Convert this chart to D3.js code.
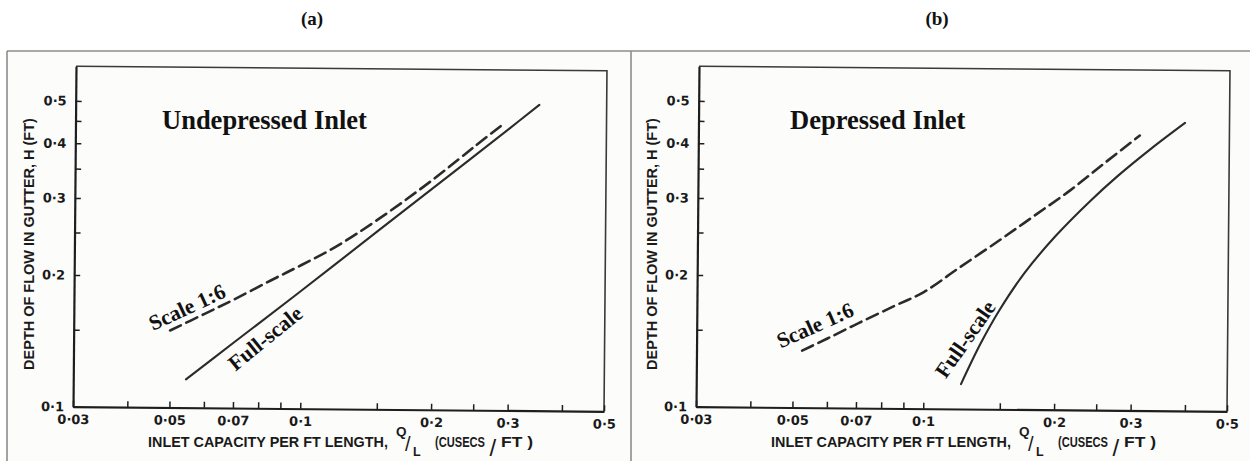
<!DOCTYPE html>
<html>
<head>
<meta charset="utf-8">
<script src="https://cdn.jsdelivr.net/npm/d3@7"></script>
<style>
  html, body { margin: 0; padding: 0; background: #ffffff; }
  svg { display: block; }
</style>
</head>
<body>
<svg id="chart" width="1250" height="461"></svg>
<script>
// Inlet capacity per ft length, Q/L (cusecs/ft), against depth of flow in gutter, H (ft)

// (a) Undepressed inlet
const undepressedFullQ  = [0.0545, 0.07, 0.1, 0.15, 0.2, 0.3, 0.35];
const undepressedFullH  = [0.116, 0.141, 0.186, 0.256, 0.321, 0.442, 0.5];
const undepressedModelQ = [0.05, 0.06, 0.07, 0.085, 0.1, 0.12, 0.15, 0.2, 0.25, 0.29];
const undepressedModelH = [0.150, 0.164, 0.177, 0.196, 0.213, 0.235, 0.272, 0.336, 0.402, 0.452];

// (b) Depressed inlet
const depressedFullQ  = [0.122, 0.135, 0.149, 0.17, 0.2, 0.24, 0.277, 0.33, 0.395];
const depressedFullH  = [0.114, 0.141, 0.1684, 0.2053, 0.2495, 0.3006, 0.343, 0.3966, 0.4553];
const depressedModelQ = [0.0525, 0.06, 0.0709, 0.085, 0.1, 0.12, 0.15, 0.18, 0.216, 0.26, 0.311];
const depressedModelH = [0.135, 0.144, 0.1566, 0.171, 0.185, 0.210, 0.245, 0.279, 0.318, 0.369, 0.425];

// Axis ticks and labels
const xTicks      = [0.03, 0.04, 0.05, 0.06, 0.07, 0.08, 0.09, 0.1, 0.15, 0.2, 0.25, 0.3, 0.4, 0.5];
const xTickLabels = [0.03, 0.05, 0.07, 0.1, 0.2, 0.3, 0.5];
const yTicks      = [0.1, 0.15, 0.2, 0.25, 0.3, 0.35, 0.4, 0.45, 0.5];
const yTickLabels = [0.1, 0.2, 0.3, 0.4, 0.5];
const xDomain = [0.03, 0.5];
const yDomain = [0.1, 0.6];

const panelLetters = ["(a)", "(b)"];
const panelTitles  = ["Undepressed Inlet", "Depressed Inlet"];
const seriesNames  = ["Full-scale", "Scale 1:6"];

const zip = (qs, hs) => qs.map((q, i) => ({ q, h: hs[i] }));
const panels = [
  { letter: panelLetters[0], title: panelTitles[0], dx: 0,
    full: zip(undepressedFullQ, undepressedFullH),
    model: zip(undepressedModelQ, undepressedModelH),
    titlePos: [162, 129], letterX: 312,
    modelLabel: { x: 187, y: 307, a: -25 },
    fullLabel:  { x: 265, y: 338, a: -39 } },
  { letter: panelLetters[1], title: panelTitles[1], dx: 623,
    full: zip(depressedFullQ, depressedFullH),
    model: zip(depressedModelQ, depressedModelH),
    titlePos: [790, 129], letterX: 937,
    modelLabel: { x: 815, y: 325, a: -24 },
    fullLabel:  { x: 965, y: 339, a: -55 } }
];

const fmt = v => String(v).replace(".", "·");
const svg = d3.select("#chart");
const ink = "#2b2b2b";
const sans = "Liberation Sans, Arial, sans-serif";
const tickFont = "DejaVu Sans, Verdana, sans-serif";
const serif = "Liberation Serif, Times New Roman, serif";

// squeeze a text horizontally so it spans the given width
function fitText(sel, prefix, width) {
  const natural = sel.node().getComputedTextLength();
  const k = natural > 0 ? width / natural : 1;
  sel.attr("transform", `${prefix} scale(${k},1)`);
  return sel;
}

// Page frame
svg.append("rect").attr("x", 7).attr("y", 51).attr("width", 1243).attr("height", 410)
  .attr("fill", "#fcfcfa");
const frame = svg.append("g").attr("stroke", "#8c8c8c").attr("stroke-width", 1.6).attr("fill", "none");
frame.append("line").attr("x1", 7).attr("x2", 1250).attr("y1", 51).attr("y2", 51);
frame.append("line").attr("x1", 7).attr("x2", 7).attr("y1", 51).attr("y2", 461);
frame.append("line").attr("x1", 631).attr("x2", 631).attr("y1", 51).attr("y2", 461);

panels.forEach(p => {
  const x0 = 74.5 + p.dx, x1 = 605.5 + p.dx;
  const yB = 409, yT = 68.5;
  const x = d3.scaleLog().domain(xDomain).range([x0, x1]);
  const y = d3.scaleLog().domain(yDomain).range([yB, yT]);

  // panel letter
  svg.append("text").attr("x", p.letterX).attr("y", 25)
    .attr("text-anchor", "middle")
    .attr("font-family", serif).attr("font-weight", "bold").attr("font-size", 19)
    .attr("fill", "#111").text(p.letter);

  // the plot sits slightly turned on the page
  const cx = (x0 + x1) / 2, cy = (yB + yT) / 2;
  const g = svg.append("g").attr("transform", `rotate(0.5, ${cx}, ${cy})`);

  // plot box: top and right edges
  g.append("path")
    .attr("d", `M${x0},${yT}H${x1}V${yB}`)
    .attr("fill", "none").attr("stroke", "#3a3a3a").attr("stroke-width", 1.6);

  const xAxis = d3.axisBottom(x).tickValues(xTicks)
    .tickSizeInner(-6).tickSizeOuter(0).tickPadding(8)
    .tickFormat(d => xTickLabels.includes(d) ? fmt(d) : "");
  const yAxis = d3.axisLeft(y).tickValues(yTicks)
    .tickSizeInner(-6).tickSizeOuter(0).tickPadding(9)
    .tickFormat(d => yTickLabels.includes(d) ? fmt(d) : "");

  const styleAxis = sel => {
    sel.select(".domain").attr("stroke", "#1e1e1e").attr("stroke-width", 2.2);
    sel.selectAll(".tick line").attr("stroke", "#1e1e1e").attr("stroke-width", 1.5);
    sel.selectAll(".tick text")
      .attr("font-family", tickFont).attr("font-weight", "bold")
      .attr("font-size", 13).attr("fill", "#1a1a1a");
  };
  g.append("g").attr("transform", `translate(0,${yB})`).call(xAxis).call(styleAxis);
  g.append("g").attr("transform", `translate(${x0},0)`).call(yAxis).call(styleAxis);

  const line = d3.line().x(d => x(d.q)).y(d => y(d.h)).curve(d3.curveCatmullRom.alpha(0.5));

  g.append("path").datum(p.full).attr("d", line)
    .attr("fill", "none").attr("stroke", ink).attr("stroke-width", 2.1)
    .attr("stroke-linecap", "round");
  g.append("path").datum(p.model).attr("d", line)
    .attr("fill", "none").attr("stroke", ink).attr("stroke-width", 2.6)
    .attr("stroke-dasharray", "12,6").attr("stroke-linecap", "round");

  // axis titles
  const yTitle = svg.append("text")
    .attr("text-anchor", "middle").attr("dominant-baseline", "central")
    .attr("font-family", sans).attr("font-weight", "bold")
    .attr("font-size", 14.5).attr("fill", "#1a1a1a")
    .text("DEPTH OF FLOW IN GUTTER, H (FT)");
  fitText(yTitle, `translate(${29 + p.dx},244) rotate(-90)`, 252);

  const xt = svg.append("g")
    .attr("font-family", sans).attr("font-weight", "bold").attr("fill", "#1a1a1a");
  const part = (txt, size, w, px, py) => {
    const t = xt.append("text").attr("font-size", size).text(txt);
    return fitText(t, `translate(${px + p.dx},${py})`, w);
  };
  part("INLET CAPACITY PER FT LENGTH,", 14.5, 240, 148, 447);
  xt.append("text").attr("x", 396 + p.dx).attr("y", 436).attr("font-size", 13.5).text("Q");
  xt.append("text").attr("x", 405 + p.dx).attr("y", 451).attr("font-size", 20)
    .attr("font-weight", "normal").text("/");
  xt.append("text").attr("x", 413 + p.dx).attr("y", 456).attr("font-size", 12.5).text("L");
  part("(CUSECS", 14.5, 50, 435, 447);
  xt.append("text").attr("x", 489.5 + p.dx).attr("y", 456).attr("font-size", 24)
    .attr("font-weight", "normal").text("/");
  part("FT )", 14.5, 32, 501, 447);

  // panel title
  svg.append("text").attr("x", p.titlePos[0]).attr("y", p.titlePos[1])
    .attr("font-family", serif).attr("font-weight", "bold")
    .attr("font-size", 26.5).attr("fill", "#111")
    .text(p.title);

  // curve labels
  const curveLabel = (o, txt) => svg.append("text")
    .attr("transform", `translate(${o.x},${o.y}) rotate(${o.a})`)
    .attr("text-anchor", "middle").attr("dy", "0.35em")
    .attr("font-family", serif).attr("font-weight", "bold")
    .attr("font-size", 21.5).attr("fill", "#111")
    .text(txt);
  curveLabel(p.modelLabel, seriesNames[1]);
  curveLabel(p.fullLabel, seriesNames[0]);
});
</script>
</body>
</html>
